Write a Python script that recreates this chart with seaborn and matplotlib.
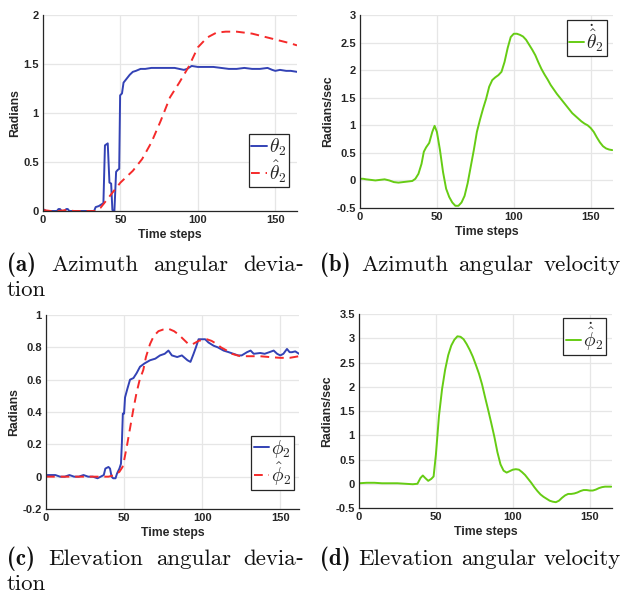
import matplotlib
matplotlib.use("Agg")
import matplotlib.pyplot as plt
import pandas as pd
import seaborn as sns
from matplotlib.ticker import FuncFormatter

# ---------------- data ----------------
# (a) azimuth angular deviation
step_theta = [0, 1, 2, 4, 7, 9, 10, 11, 12, 14, 15, 16, 17, 20, 25, 30, 33, 34, 36, 38, 39, 40,
              41.8, 42.9, 44, 44.8, 46.1, 47.2, 48.3, 49.2, 49.8, 51, 52, 54, 56, 58, 60, 63, 66,
              70, 75, 80, 85, 88, 91, 93, 96, 100, 105, 110, 115, 120, 125, 130, 135, 140, 145,
              148, 150, 153, 157, 160, 164]
theta2 = [0.02, 0.01, 0.0, 0.0, 0.0, 0.0, 0.02, 0.02, 0.0, 0.0, 0.02, 0.02, 0.0, 0.0, 0.0, 0.0,
          0.0, 0.04, 0.05, 0.07, 0.08, 0.67, 0.69, 0.29, 0.28, 0.01, 0.0, 0.40, 0.42, 0.43, 1.18,
          1.20, 1.31, 1.35, 1.39, 1.42, 1.43, 1.45, 1.45, 1.46, 1.46, 1.46, 1.46, 1.45, 1.44,
          1.45, 1.48, 1.47, 1.47, 1.47, 1.46, 1.45, 1.45, 1.46, 1.45, 1.45, 1.46, 1.44, 1.43,
          1.44, 1.43, 1.43, 1.42]
step_theta_hat = [0, 5, 10, 15, 20, 25, 30, 34, 37, 40, 43, 46, 50, 54, 58, 64, 70, 76, 82, 88,
                  94, 100, 106, 112, 118, 125, 130, 135, 140, 145, 150, 155, 160, 164]
theta2_hat = [0.01, 0.0, 0.0, 0.01, 0.0, 0.0, 0.0, 0.0, 0.03, 0.09, 0.15, 0.21, 0.29, 0.35, 0.41,
              0.53, 0.70, 0.92, 1.16, 1.31, 1.47, 1.67, 1.77, 1.82, 1.83, 1.83, 1.82, 1.81, 1.79,
              1.77, 1.75, 1.73, 1.71, 1.69]

# (b) azimuth angular velocity
step_theta_dot = [0, 2, 4, 7, 10, 13, 16, 19, 22, 25, 28, 31, 34, 36, 38, 40, 41.5, 43, 45, 47,
                  48.5, 50, 52, 54, 56, 58, 60, 62, 64, 66, 68, 70, 72, 74, 76, 78, 80, 82, 84,
                  86, 88, 90, 92, 94, 96, 98, 100, 102, 104, 106, 108, 110, 112, 114, 116, 118,
                  120, 122, 124, 126, 128, 130, 132, 134, 136, 138, 140, 142, 144, 146, 148, 150,
                  152, 154, 156, 158, 160, 162, 164]
theta2_hat_dot = [0.03, 0.03, 0.02, 0.01, 0.0, 0.01, 0.02, 0.0, -0.03, -0.04, -0.03, -0.02, -0.01,
                  0.03, 0.12, 0.30, 0.52, 0.60, 0.68, 0.88, 0.99, 0.88, 0.55, 0.15, -0.15, -0.30,
                  -0.40, -0.46, -0.46, -0.40, -0.28, -0.05, 0.25, 0.55, 0.88, 1.10, 1.30, 1.48,
                  1.70, 1.82, 1.87, 1.91, 1.97, 2.15, 2.40, 2.60, 2.66, 2.66, 2.64, 2.61, 2.55,
                  2.46, 2.37, 2.27, 2.14, 2.02, 1.92, 1.83, 1.73, 1.65, 1.57, 1.50, 1.43, 1.36,
                  1.29, 1.22, 1.17, 1.12, 1.07, 1.03, 1.00, 0.95, 0.88, 0.78, 0.69, 0.62, 0.58,
                  0.56, 0.55]

# (c) elevation angular deviation
step_phi = [0, 3, 6, 9, 12, 15, 18, 21, 24, 27, 30, 33, 35, 37, 38, 40, 41, 42, 43, 44.5, 45.5,
            47, 48, 48.6, 49.2, 50, 50.6, 52, 53.8, 56, 58, 60.2, 63, 66.6, 70, 73, 76, 78.4,
            80.6, 84, 87, 90.6, 92.5, 94.5, 96, 97.7, 100, 101.9, 104, 107.3, 110, 113.7, 117,
            120, 123, 125.3, 128.7, 131, 133, 137.2, 140, 143, 145.8, 148, 150, 152, 154.3, 156,
            157.5, 159.6, 162]
phi2 = [0.01, 0.01, 0.01, 0.0, 0.0, 0.01, 0.0, 0.0, 0.01, 0.0, 0.0, -0.01, 0.0, 0.01, 0.05, 0.06,
        0.05, 0.0, -0.01, -0.01, 0.02, 0.05, 0.08, 0.21, 0.39, 0.39, 0.49, 0.54, 0.60, 0.61, 0.64,
        0.68, 0.70, 0.72, 0.73, 0.75, 0.76, 0.78, 0.75, 0.74, 0.75, 0.72, 0.71, 0.76, 0.80, 0.85,
        0.85, 0.85, 0.83, 0.81, 0.80, 0.78, 0.77, 0.76, 0.75, 0.75, 0.77, 0.78, 0.76, 0.765, 0.76,
        0.77, 0.78, 0.76, 0.75, 0.76, 0.79, 0.77, 0.77, 0.775, 0.76]
step_phi_hat = [0, 5, 10, 15, 20, 25, 30, 35, 40, 44, 47, 49, 50, 52, 54, 56, 58, 60, 62.3, 64,
                66.6, 69, 72, 75, 78.4, 82, 84.8, 88, 91.2, 94, 97.7, 100, 103, 106, 109.4, 112,
                115.8, 119, 124.4, 130, 137, 143, 150, 156, 162]
phi2_hat = [0.0, 0.0, 0.0, 0.0, 0.0, 0.0, 0.0, 0.0, 0.0, 0.01, 0.03, 0.06, 0.10, 0.20, 0.31,
            0.42, 0.52, 0.60, 0.66, 0.74, 0.82, 0.87, 0.90, 0.91, 0.915, 0.90, 0.88, 0.85, 0.82,
            0.82, 0.84, 0.845, 0.85, 0.84, 0.82, 0.80, 0.78, 0.76, 0.745, 0.745, 0.745, 0.74,
            0.735, 0.735, 0.745]

# (d) elevation angular velocity
step_phi_dot = [0, 5, 10, 15, 20, 25, 30, 35, 38, 40, 41.5, 43, 45, 47, 48.5, 50, 52, 54, 56, 58,
                60, 62, 64, 66, 68, 70, 72, 74, 76, 78, 80, 82, 84, 86, 88, 90, 92, 94, 96, 98,
                100, 102, 104, 106, 108, 110, 112, 114, 116, 118, 120, 122, 124, 126, 128, 130,
                132, 134, 136, 138, 140, 142, 144, 146, 148, 150, 152, 154, 156, 158, 160, 162,
                164]
phi2_hat_dot = [0.01, 0.02, 0.02, 0.01, 0.01, 0.01, 0.0, -0.01, 0.0, 0.12, 0.17, 0.12, 0.06,
                0.10, 0.15, 0.60, 1.40, 1.95, 2.35, 2.65, 2.85, 2.97, 3.04, 3.03, 2.98, 2.88,
                2.76, 2.62, 2.45, 2.27, 2.05, 1.78, 1.52, 1.25, 0.97, 0.65, 0.40, 0.27, 0.23,
                0.26, 0.29, 0.30, 0.29, 0.24, 0.18, 0.10, 0.02, -0.07, -0.15, -0.22, -0.27,
                -0.31, -0.35, -0.37, -0.38, -0.35, -0.29, -0.24, -0.21, -0.21, -0.20, -0.18,
                -0.15, -0.13, -0.13, -0.14, -0.14, -0.12, -0.09, -0.07, -0.06, -0.06, -0.06]

captions = [
    (["(a)", "Azimuth", "angular", "devia\u2010"], "tion"),
    (["(b)", "Azimuth", "angular", "velocity"], None),
    (["(c)", "Elevation", "angular", "devia\u2010"], "tion"),
    (["(d)", "Elevation", "angular", "velocity"], None),
]

# ---------------- style ----------------
sns.set_style("white")
plt.rcParams.update({
    "font.family": ["Liberation Sans", "DejaVu Sans"],
    "mathtext.fontset": "cm",
    "axes.unicode_minus": False,
})

BLUE = "#3342B5"
RED = "#F52A2A"
GREEN = "#66CC14"
AXC = "#262626"
GRID = "#E6E6E6"

fig = plt.figure(figsize=(6.27, 5.99), dpi=100)
W, H = 627, 599


def axes_px(left, top, right, bottom):
    return fig.add_axes([left / W, 1 - bottom / H, (right - left) / W, (bottom - top) / H])


def style_axes(ax, ylim, yticks, ylabel, xmax):
    ax.set_xlim(0, xmax)
    ax.set_ylim(*ylim)
    ax.set_xticks([0, 50, 100, 150])
    ax.set_yticks(yticks)
    fmt = FuncFormatter(lambda v, p: f"{v:g}")
    ax.yaxis.set_major_formatter(fmt)
    ax.xaxis.set_major_formatter(fmt)
    ax.grid(True, color=GRID, lw=0.9)
    ax.set_axisbelow(True)
    for s in ("top", "right"):
        ax.spines[s].set_visible(False)
    for s in ("left", "bottom"):
        ax.spines[s].set_color(AXC)
        ax.spines[s].set_linewidth(0.9)
    ax.tick_params(direction="in", length=3, width=0.8, color=AXC, labelcolor=AXC,
                   labelsize=8, pad=3)
    for lab in ax.get_xticklabels() + ax.get_yticklabels():
        lab.set_fontweight("bold")
    ax.set_xlabel("Time steps", fontsize=8.8, fontweight="bold", color=AXC, labelpad=2.5)
    ax.set_ylabel(ylabel, fontsize=8.8, fontweight="bold", color=AXC, labelpad=1.5)


def add_legend(ax, loc, anchor):
    leg = ax.legend(loc=loc, bbox_to_anchor=anchor, borderaxespad=0, fontsize=14,
                    frameon=True, fancybox=False, framealpha=1, edgecolor=AXC,
                    handlelength=0.8, handletextpad=0.1, borderpad=0.12,
                    labelspacing=0.0)
    leg.get_frame().set_linewidth(0.9)


LW = 1.4

# (a)
ax_a = axes_px(43, 15, 297, 211)
sns.lineplot(data=pd.DataFrame({"t": step_theta, "v": theta2}), x="t", y="v", ax=ax_a,
             color=BLUE, lw=LW, label=r"$\theta_2$", estimator=None)
sns.lineplot(data=pd.DataFrame({"t": step_theta_hat, "v": theta2_hat}), x="t", y="v", ax=ax_a,
             color=RED, lw=LW, linestyle=(0, (4.5, 3)), label=r"$\hat{\theta}_2$", estimator=None)
style_axes(ax_a, (0, 2), [0, 0.5, 1, 1.5, 2], "Radians", 164)
add_legend(ax_a, "lower right", (0.9685, 0.122))

# (b)
ax_b = axes_px(360, 15, 613, 208)
sns.lineplot(data=pd.DataFrame({"t": step_theta_dot, "v": theta2_hat_dot}), x="t", y="v",
             ax=ax_b, color=GREEN, lw=LW, label=r"$\dot{\hat{\theta}}_2$", estimator=None)
style_axes(ax_b, (-0.5, 3), [-0.5, 0, 0.5, 1, 1.5, 2, 2.5, 3], "Radians/sec", 164.5)
add_legend(ax_b, "upper right", (0.975, 0.974))

# (c)
ax_c = axes_px(46, 315, 299, 509)
sns.lineplot(data=pd.DataFrame({"t": step_phi, "v": phi2}), x="t", y="v", ax=ax_c,
             color=BLUE, lw=LW, label=r"$\phi_2$", estimator=None)
sns.lineplot(data=pd.DataFrame({"t": step_phi_hat, "v": phi2_hat}), x="t", y="v", ax=ax_c,
             color=RED, lw=LW, linestyle=(0, (4.5, 3)), label=r"$\hat{\phi}_2$", estimator=None)
style_axes(ax_c, (-0.2, 1), [-0.2, 0, 0.2, 0.4, 0.6, 0.8, 1], "Radians", 162)
add_legend(ax_c, "lower right", (0.980, 0.098))

# (d)
ax_d = axes_px(359, 314, 612, 508)
sns.lineplot(data=pd.DataFrame({"t": step_phi_dot, "v": phi2_hat_dot}), x="t", y="v",
             ax=ax_d, color=GREEN, lw=LW, label=r"$\dot{\hat{\phi}}_2$", estimator=None)
style_axes(ax_d, (-0.5, 3.5), [-0.5, 0, 0.5, 1, 1.5, 2, 2.5, 3, 3.5], "Radians/sec", 164.5)
add_legend(ax_d, "upper right", (0.976, 0.978))

# ---------------- justified captions ----------------
renderer = fig.canvas.get_renderer()
CAP_SIZE = 16.5
SERIF = ["cmr10", "DejaVu Serif"]
SERIF_BOLD = ["cmb10", "DejaVu Serif"]


def caption(words, tail, x0, x1, ybase):
    y = 1 - ybase / H
    items = []
    for i, w in enumerate(words):
        fam = SERIF_BOLD if i == 0 else SERIF
        items.append(fig.text(0, y, w, family=fam, fontsize=CAP_SIZE, color="#111111",
                              va="baseline"))
    widths = [t.get_window_extent(renderer).width for t in items]
    gap = ((x1 - x0) - sum(widths)) / (len(items) - 1)
    x = x0
    for t, w in zip(items, widths):
        t.set_x(x / W)
        x += w + gap
    if tail:
        fig.text(x0 / W, 1 - (ybase + 25.5) / H, tail, family=SERIF, fontsize=CAP_SIZE,
                 color="#111111", va="baseline")


caption(*captions[0], 7, 304, 271)
caption(*captions[1], 320, 621, 271)
caption(*captions[2], 7, 304, 565)
caption(*captions[3], 320, 621, 565)

fig.savefig("out.png", dpi=100)
